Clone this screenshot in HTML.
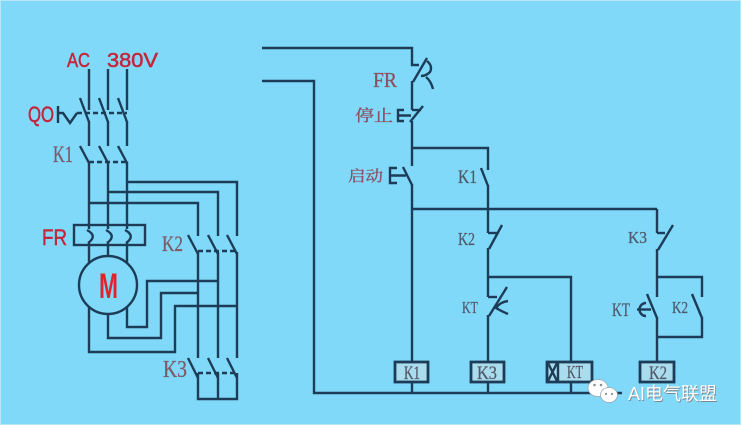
<!DOCTYPE html>
<html><head><meta charset="utf-8"><style>
html,body{margin:0;padding:0;background:#80d9f8;}
svg{display:block;}
</style></head><body>
<svg width="741" height="425" viewBox="0 0 741 425" xmlns="http://www.w3.org/2000/svg">
<rect x="0" y="0" width="741" height="425" fill="#80d9f8"/>
<rect x="0.5" y="0.5" width="740" height="424" fill="none" stroke="#b9e6f5" stroke-width="1"/>

<g stroke="#1d3c58" stroke-width="2.4" fill="none" stroke-linecap="butt">
<!-- ===== POWER CIRCUIT ===== -->
<line x1="89" y1="69" x2="89" y2="110"/>
<line x1="108" y1="69" x2="108" y2="110"/>
<line x1="127" y1="69" x2="127" y2="110"/>
<line x1="80" y1="98" x2="89" y2="122"/>
<line x1="99" y1="98" x2="108" y2="122"/>
<line x1="118" y1="98" x2="127" y2="122"/>
<path d="M58,106 L58,123 M58,113 L63,113 L70,123 L77,113"/>
<line x1="77" y1="113" x2="127" y2="113" stroke-dasharray="5,3"/>
<line x1="89" y1="121" x2="89" y2="146"/>
<line x1="108" y1="121" x2="108" y2="146"/>
<line x1="127" y1="121" x2="127" y2="146"/>
<line x1="80" y1="146" x2="89" y2="163"/>
<line x1="99" y1="146" x2="108" y2="163"/>
<line x1="118" y1="146" x2="127" y2="163"/>
<line x1="89" y1="162" x2="127" y2="162" stroke-dasharray="5,3"/>
<line x1="89" y1="162" x2="89" y2="229"/>
<line x1="108" y1="162" x2="108" y2="229"/>
<line x1="127" y1="162" x2="127" y2="229"/>
<polyline points="127,182 237,182 237,236"/>
<polyline points="108,192 218,192 218,236"/>
<polyline points="89,203 198,203 198,236"/>
<rect x="74" y="225" width="71" height="20"/>
<path d="M87,230 Q98,236 88,243"/>
<path d="M106,230 Q117,236 107,243"/>
<path d="M125,230 Q136,236 126,243"/>
<line x1="89" y1="243" x2="89" y2="263"/>
<line x1="108" y1="243" x2="108" y2="256"/>
<line x1="127" y1="243" x2="127" y2="263"/>
<circle cx="108" cy="285" r="29"/>
<polyline points="127,306 127,327 147,327 147,281 218,281"/>
<polyline points="108,314 108,338 161,338 161,293 198,293"/>
<polyline points="89,306 89,352 175,352 175,306 237,306"/>
<line x1="188" y1="235" x2="198" y2="254"/>
<line x1="208" y1="235" x2="218" y2="254"/>
<line x1="227" y1="235" x2="237" y2="254"/>
<line x1="198" y1="251" x2="237" y2="251" stroke-dasharray="5,3"/>
<line x1="198" y1="252" x2="198" y2="358"/>
<line x1="218" y1="252" x2="218" y2="358"/>
<line x1="237" y1="252" x2="237" y2="358"/>
<line x1="188" y1="358" x2="198" y2="378"/>
<line x1="208" y1="358" x2="218" y2="378"/>
<line x1="227" y1="358" x2="237" y2="378"/>
<line x1="198" y1="373" x2="237" y2="373" stroke-dasharray="5,3"/>
<polyline points="198,373 198,399 237,399 237,373"/>
<line x1="218" y1="373" x2="218" y2="399"/>

<!-- ===== CONTROL CIRCUIT ===== -->
<polyline points="262,48 412,48 412,65 419,65"/>
<polyline points="262,81 314,81 314,393 622,393"/>
<line x1="413" y1="82" x2="427" y2="58"/>
<path d="M427,61 Q433,66 430,72 Q426,76 421,76 M426,77 Q431,81 433,89"/>
<line x1="412" y1="81" x2="412" y2="110"/>
<line x1="412" y1="110" x2="421" y2="110"/>
<line x1="410" y1="122" x2="423" y2="106"/>
<path d="M404,110 L398,110 L398,121 L404,121 M398,115.5 L411,115.5"/>
<line x1="412" y1="121" x2="412" y2="166"/>
<polyline points="412,148 488,148 488,170"/>
<path d="M397,168 L390,168 L390,183 L397,183 M390,175.5 L406,175.5"/>
<line x1="403" y1="167" x2="412" y2="185"/>
<line x1="412" y1="184" x2="412" y2="362"/>
<line x1="481" y1="168" x2="488" y2="186"/>
<line x1="488" y1="185" x2="488" y2="233"/>
<line x1="412" y1="209" x2="657" y2="209"/>
<line x1="488" y1="233" x2="497" y2="233"/>
<line x1="489" y1="249" x2="502" y2="225"/>
<line x1="488" y1="248" x2="488" y2="297"/>
<polyline points="488,277 571,277 571,362"/>
<line x1="488" y1="297" x2="497" y2="297"/>
<line x1="489" y1="316" x2="507" y2="287"/>
<path d="M508,301 Q500,302 496,308 Q501,311 508,314"/>
<line x1="488" y1="315" x2="488" y2="362"/>
<line x1="657" y1="209" x2="657" y2="233"/>
<line x1="657" y1="233" x2="665" y2="233"/>
<line x1="658" y1="250" x2="673" y2="225"/>
<line x1="657" y1="249" x2="657" y2="297"/>
<polyline points="657,277 702,277 702,297"/>
<line x1="692" y1="294" x2="702" y2="318"/>
<polyline points="702,317 702,337 657,337"/>
<line x1="647" y1="294" x2="657" y2="318"/>
<path d="M646,303 A6.5,6.5 0 0 0 646,316"/>
<line x1="637" y1="309.5" x2="651" y2="309.5"/>
<line x1="657" y1="317" x2="657" y2="362"/>
<line x1="412" y1="382" x2="412" y2="393"/>
<line x1="488" y1="382" x2="488" y2="393"/>
<line x1="571" y1="382" x2="571" y2="393"/>
</g>

<g stroke="#1d3c58" stroke-width="2.8" fill="#a9dced">
<rect x="395" y="362" width="33" height="20"/>
<rect x="471" y="362" width="33" height="20"/>
<rect x="547" y="362" width="45" height="20"/>
<rect x="640" y="362" width="34" height="20"/>
</g>
<g stroke="#1d3c58" stroke-width="2.4" fill="none">
<line x1="558" y1="362" x2="558" y2="382"/>
<line x1="548" y1="363" x2="557" y2="381"/>
<line x1="557" y1="363" x2="548" y2="381"/>
</g>

<g font-family="Liberation Sans, sans-serif" fill="#c4253b" stroke="#c4253b" stroke-width="0.5">
<text x="67" y="67" font-size="20" textLength="23" lengthAdjust="spacingAndGlyphs">AC</text>
<text x="107" y="67" font-size="20" textLength="51" lengthAdjust="spacingAndGlyphs">380V</text>
<text x="28" y="122" font-size="22" textLength="26" lengthAdjust="spacingAndGlyphs">QO</text>
<text x="42" y="245" font-size="22" textLength="25" lengthAdjust="spacingAndGlyphs">FR</text>
<text x="99" y="298" font-size="35" font-weight="bold" fill="#e2232d" stroke="none" textLength="19" lengthAdjust="spacingAndGlyphs">M</text>
</g>
<g font-family="Liberation Serif, serif" fill="#7d5a6a" stroke="#7d5a6a" stroke-width="0.3">
<text x="53" y="162" font-size="23" textLength="20" lengthAdjust="spacingAndGlyphs">K1</text>
<text x="162" y="251" font-size="22" textLength="21" lengthAdjust="spacingAndGlyphs">K2</text>
<text x="163" y="377" font-size="24" textLength="24" lengthAdjust="spacingAndGlyphs">K3</text>
</g>
<g fill="#8c4f62" stroke="#8c4f62" stroke-width="0.3">
<text x="373" y="87" font-family="Liberation Serif, serif" font-size="21" textLength="24" lengthAdjust="spacingAndGlyphs">FR</text>
<text x="355" y="121" font-family="Liberation Serif, 'Noto Serif CJK SC', serif" font-size="16" textLength="38" lengthAdjust="spacingAndGlyphs">停止</text>
<text x="348" y="181" font-family="Liberation Serif, 'Noto Serif CJK SC', serif" font-size="15" textLength="35" lengthAdjust="spacingAndGlyphs">启动</text>
</g>
<g font-family="Liberation Serif, serif" fill="#505868" stroke="#505868" stroke-width="0.25">
<text x="458" y="183" font-size="19" textLength="19" lengthAdjust="spacingAndGlyphs">K1</text>
<text x="458" y="245" font-size="18" textLength="17" lengthAdjust="spacingAndGlyphs">K2</text>
<text x="462" y="313" font-size="17" textLength="16" lengthAdjust="spacingAndGlyphs">KT</text>
<text x="628" y="243" font-size="17" textLength="19" lengthAdjust="spacingAndGlyphs">K3</text>
<text x="612" y="316" font-size="19" textLength="18" lengthAdjust="spacingAndGlyphs">KT</text>
<text x="672" y="313" font-size="17" textLength="16" lengthAdjust="spacingAndGlyphs">K2</text>
<text x="404" y="379" font-size="19" textLength="16" lengthAdjust="spacingAndGlyphs">K1</text>
<text x="477" y="379" font-size="19" textLength="20" lengthAdjust="spacingAndGlyphs">K3</text>
<text x="567" y="378" font-size="18" textLength="16" lengthAdjust="spacingAndGlyphs">KT</text>
<text x="649" y="379" font-size="19" textLength="18" lengthAdjust="spacingAndGlyphs">K2</text>
</g>

<g>
<ellipse cx="598" cy="388" rx="10" ry="8.5" fill="#ffffff" stroke="#9aa8b0" stroke-width="0.8"/>
<ellipse cx="609" cy="395" rx="8.5" ry="7.5" fill="#ffffff" stroke="#9aa8b0" stroke-width="0.8"/>
<circle cx="594.5" cy="385" r="1.3" fill="#8a8f95"/>
<circle cx="601" cy="385" r="1.3" fill="#8a8f95"/>
<circle cx="606" cy="394" r="1.1" fill="#8a8f95"/>
<circle cx="612" cy="394" r="1.1" fill="#8a8f95"/>
<text x="628" y="400" font-family="Liberation Sans, 'Noto Sans CJK SC', sans-serif" font-size="18" fill="#7b8790" textLength="89" lengthAdjust="spacingAndGlyphs" transform="translate(0.8,0.8)">AI电气联盟</text>
<text x="628" y="400" font-family="Liberation Sans, 'Noto Sans CJK SC', sans-serif" font-size="18" fill="#ffffff" textLength="89" lengthAdjust="spacingAndGlyphs">AI电气联盟</text>
</g>
</svg>
</body></html>
